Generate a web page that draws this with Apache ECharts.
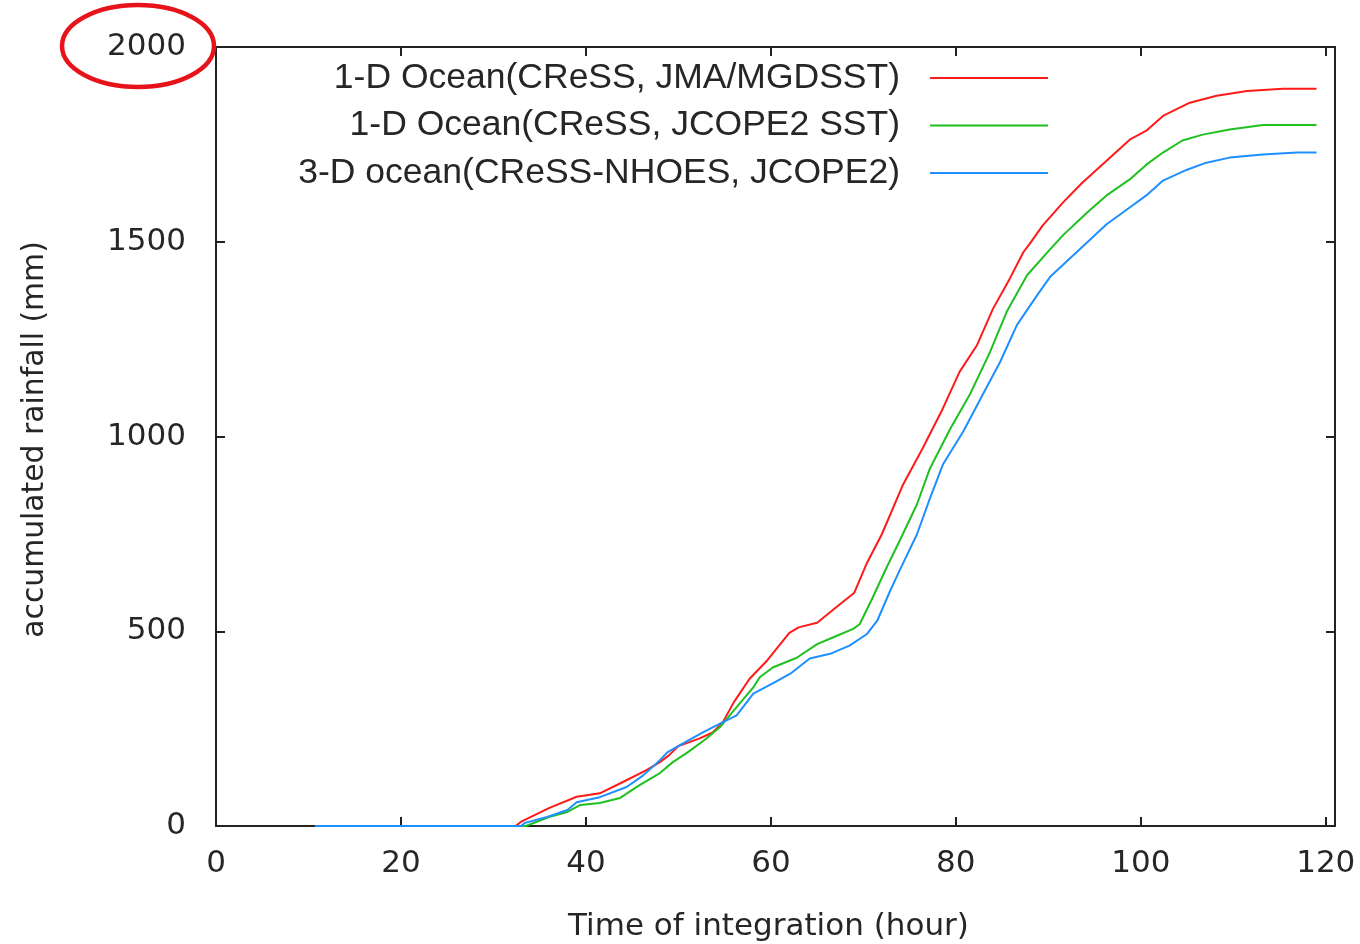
<!DOCTYPE html>
<html>
<head>
<meta charset="utf-8">
<title>Accumulated rainfall</title>
<script src="https://cdn.jsdelivr.net/npm/echarts@6/dist/echarts.min.js"></script>
<style>
  html, body { margin: 0; padding: 0; background: #ffffff; }
  #chart { width: 1360px; height: 944px; }
</style>
</head>
<body>
<div id="chart"></div>
<script>
// Series names
const seriesNames = [
  '1-D Ocean(CReSS, JMA/MGDSST)',
  '1-D Ocean(CReSS, JCOPE2 SST)',
  '3-D ocean(CReSS-NHOES, JCOPE2)'
];

// [hour, accumulated rainfall (mm)]
const jmaMgdsst = [
  [10.7,0],[32.4,0],[33,11],[36,46],[39,75],[41.5,84],[44,113],[46.5,143],[48,164],[49,182],
  [50,205],[52.3,225],[53.7,240],[54.8,266],[56,318],[57.7,378],[59.6,425],[62,496],[63,510],
  [65,522],[67.5,570],[69,598],[70.4,676],[72,749],[74.3,877],[76.4,969],[78.6,1072],[80.4,1166],
  [82.3,1235],[84,1327],[85.8,1404],[87.3,1473],[88,1495],[89.4,1542],[91.6,1601],[93.7,1652],
  [96.3,1708],[98.8,1762],[100.6,1785],[102.4,1823],[105.3,1857],[108.2,1875],[111.5,1887],
  [115.4,1893],[119,1893]
];

const jcope2Sst = [
  [10.7,0],[33.5,0],[36,23],[38,36],[39.4,54],[41.5,59],[43.7,72],[45.8,105],[48,136],[49.4,164],
  [51,189],[53,224],[54.5,254],[56,297],[58.1,356],[58.8,382],[60.2,407],[62.8,432],[65,467],
  [66.7,484],[68.9,506],[69.6,518],[71,586],[72.5,663],[73.9,731],[75.8,826],[77.2,918],
  [79.4,1020],[81.5,1107],[83.7,1217],[85.5,1320],[87.7,1414],[89.8,1470],[91.6,1517],
  [94.2,1575],[96.3,1619],[98.8,1660],[100.6,1698],[102.4,1729],[104.5,1760],[106.7,1775],
  [109.6,1788],[113.2,1800],[119,1800]
];

const nhoesJcope2 = [
  [10.7,0],[33,0],[33.4,8],[35.8,23],[38,41],[39,61],[41.5,74],[44.4,100],[46.2,130],[48,169],
  [48.8,189],[50.5,212],[52.7,241],[54.5,263],[56.3,284],[58.1,340],[60.2,366],[62.1,391],
  [64.2,430],[66.4,442],[68.5,463],[70.4,493],[71.5,527],[72.9,604],[73.9,655],[75.8,749],
  [77.2,841],[78.6,928],[80.8,1013],[82.9,1107],[84.8,1192],[86.6,1286],[88.8,1363],[90.2,1410],
  [93.4,1481],[96.3,1545],[98.8,1588],[100.6,1619],[102.4,1657],[105,1685],[107.1,1703],
  [109.6,1716],[113.2,1724],[116.9,1729],[119,1729]
];

// Axis settings
const xMin = 0, xMax = 121, xStep = 20;
const yMin = 0, yMax = 2000, yStep = 500;
const xTitle = 'Time of integration (hour)';
const yTitle = 'accumulated rainfall (mm)';

const colors = ['#ff1a1a', '#1fc01f', '#1e8fff'];
const font = '"DejaVu Sans", sans-serif';
const legendFont = '"Liberation Sans", Arial, sans-serif';
const ink = '#262626';

const chart = echarts.init(document.getElementById('chart'), null, { renderer: 'canvas' });

const frameLine = { show: true, onZero: false, lineStyle: { color: '#222', width: 2 } };
const innerTick = { show: true, inside: true, length: 9, lineStyle: { color: '#222', width: 2 } };

const option = {
  animation: false,
  backgroundColor: '#ffffff',
  color: colors,
  grid: {
    left: 216, top: 47, right: 25, bottom: 118,
    containLabel: false, outerBoundsMode: 'none'
  },
  legend: {
    orient: 'vertical',
    align: 'right',
    right: 312,
    top: 60,
    padding: 0,
    itemGap: 11.5,
    itemWidth: 118,
    itemHeight: 2,
    icon: 'rect',
    selectedMode: false,
    textStyle: {
      fontFamily: legendFont, fontSize: 35.5, color: ink, lineHeight: 36,
      padding: [0, 25, 0, 0]
    },
    data: seriesNames
  },
  xAxis: [
    {
      type: 'value', position: 'bottom', min: xMin, max: xMax, interval: xStep,
      axisLine: frameLine, axisTick: innerTick, splitLine: { show: false },
      axisLabel: {
        fontFamily: font, fontSize: 31, color: ink, margin: 22,
        formatter: v => (v % xStep === 0 ? String(v) : '')
      },
      name: xTitle, nameLocation: 'middle', nameGap: 85,
      nameTextStyle: { fontFamily: font, fontSize: 31, color: ink, padding: [0, 14, 0, 0] }
    },
    {
      type: 'value', position: 'top', min: xMin, max: xMax, interval: xStep,
      axisLine: frameLine, axisTick: innerTick, splitLine: { show: false },
      axisLabel: { show: false }
    }
  ],
  yAxis: [
    {
      type: 'value', position: 'left', min: yMin, max: yMax, interval: yStep,
      axisLine: frameLine, axisTick: innerTick, splitLine: { show: false },
      axisLabel: { fontFamily: font, fontSize: 31, color: ink, margin: 30, formatter: v => String(v) },
      name: yTitle, nameLocation: 'middle', nameGap: 166,
      nameTextStyle: { fontFamily: font, fontSize: 29.8, color: ink, padding: [0, 6, 0, 0] }
    },
    {
      type: 'value', position: 'right', min: yMin, max: yMax, interval: yStep,
      axisLine: frameLine, axisTick: innerTick, splitLine: { show: false },
      axisLabel: { show: false }
    }
  ],
  series: [
    { name: seriesNames[0], data: jmaMgdsst },
    { name: seriesNames[1], data: jcope2Sst },
    { name: seriesNames[2], data: nhoesJcope2 }
  ].map(s => ({
    ...s,
    type: 'line',
    xAxisIndex: 0,
    yAxisIndex: 0,
    showSymbol: false,
    symbol: 'none',
    lineStyle: { width: 2 },
    z: 3
  })),
  graphic: [
    {
      // circled top tick value
      type: 'ellipse',
      shape: { cx: 138, cy: 46, rx: 76, ry: 41 },
      style: { fill: 'none', stroke: '#e8121a', lineWidth: 4.5 },
      z: 10
    }
  ]
};

chart.setOption(option);
</script>
</body>
</html>
